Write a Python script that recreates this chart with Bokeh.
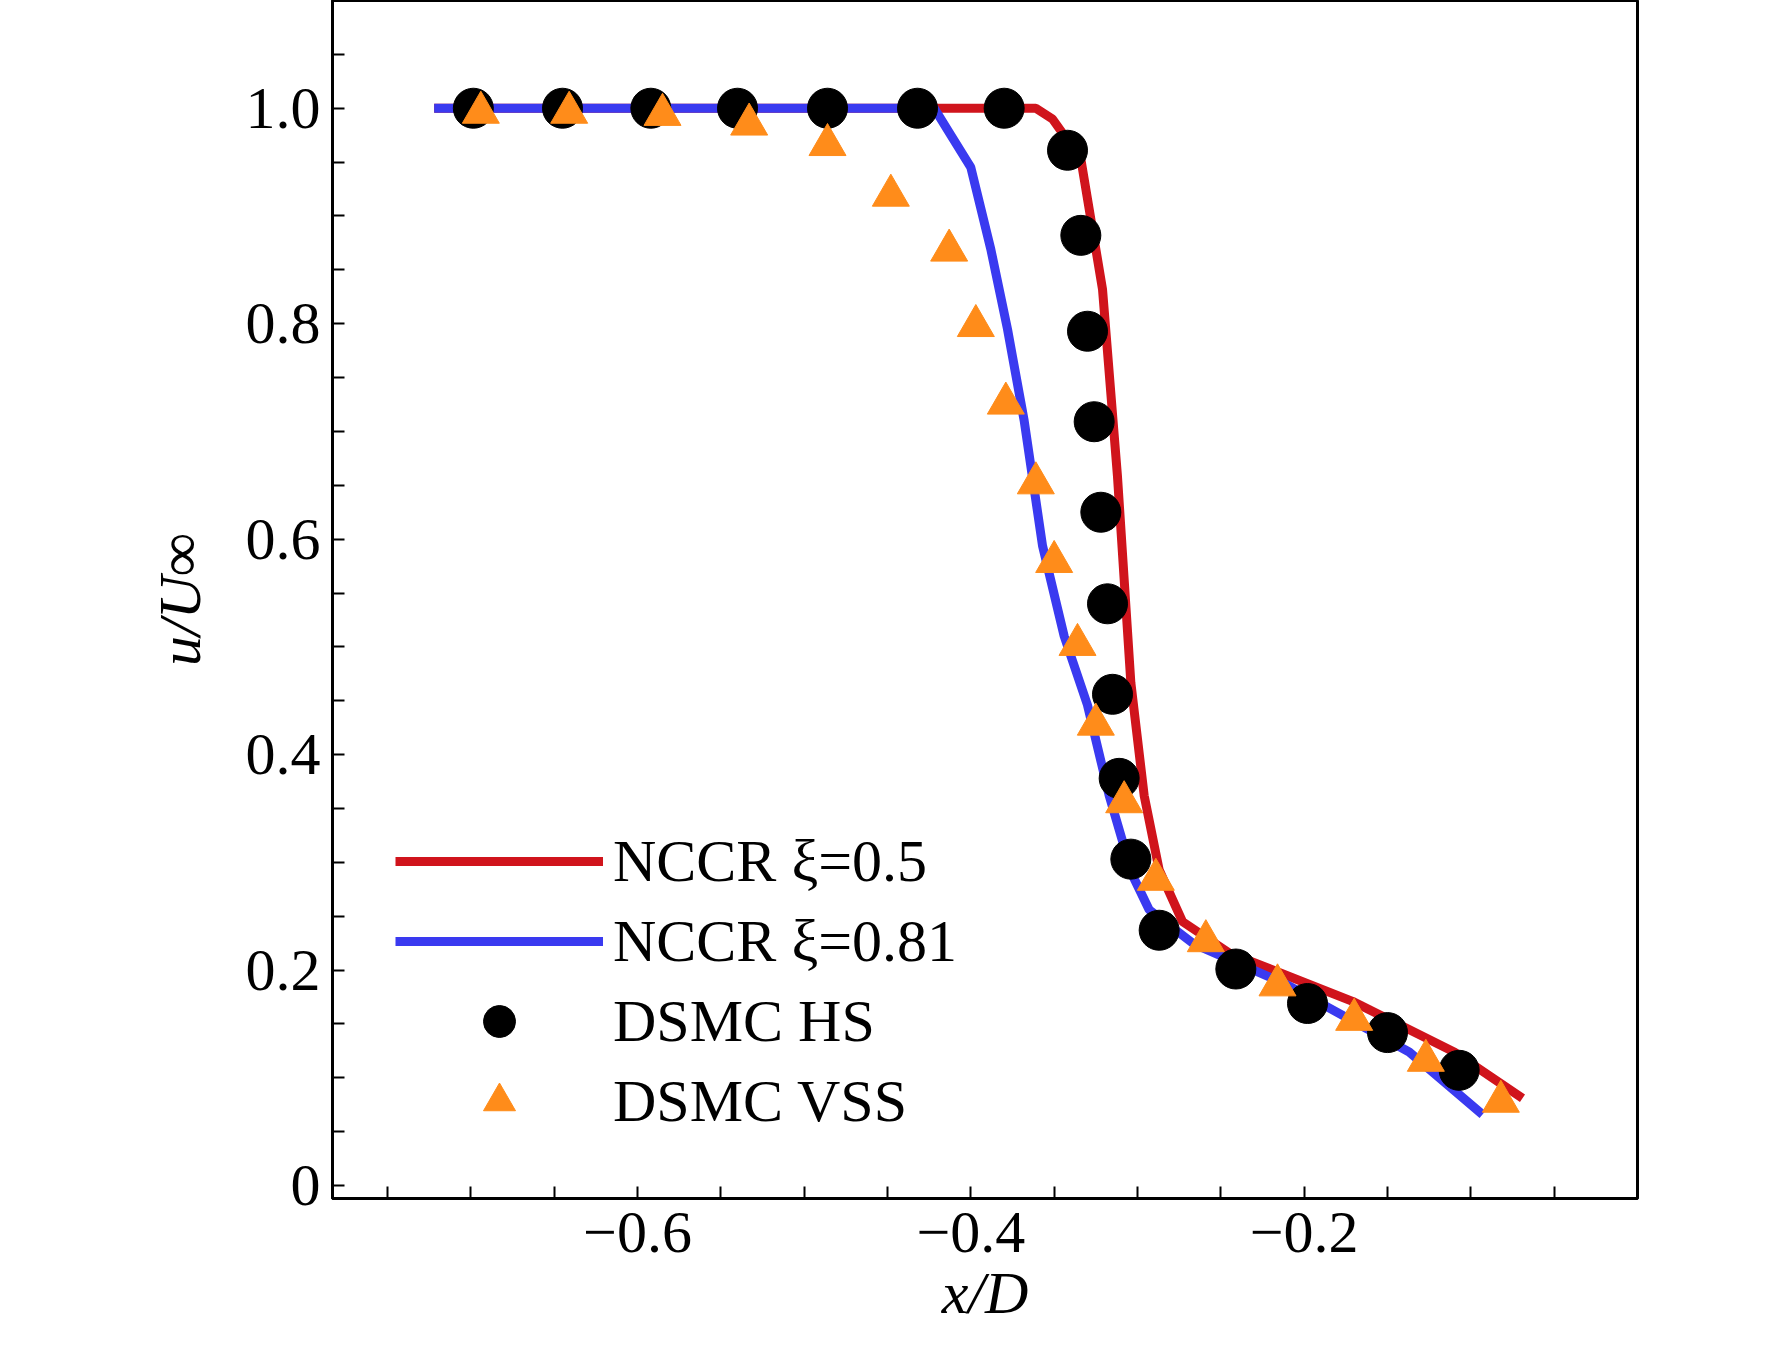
from bokeh.embed import file_html
from bokeh.resources import INLINE
from bokeh.models import Range1d, FixedTicker, Legend, LegendItem
from bokeh.plotting import figure

hs_x = [-0.6985, -0.645, -0.592, -0.540, -0.486, -0.432, -0.380, -0.342, -0.334, -0.330,
        -0.326, -0.322, -0.318, -0.315, -0.311, -0.304, -0.287, -0.241, -0.198, -0.150, -0.107]
hs_y = [1.0, 1.0, 1.0, 1.0, 1.0, 1.0, 1.0, 0.961, 0.882, 0.793,
        0.709, 0.625, 0.540, 0.456, 0.378, 0.303, 0.237, 0.201, 0.169, 0.142, 0.107]

vss_x = [-0.694, -0.641, -0.585, -0.533, -0.486, -0.448, -0.413, -0.397, -0.379, -0.361,
         -0.350, -0.336, -0.325, -0.308, -0.289, -0.259, -0.216, -0.170, -0.127, -0.082]
vss_y = [0.996, 0.996, 0.994, 0.985, 0.966, 0.919, 0.868, 0.798, 0.726, 0.652,
         0.579, 0.502, 0.428, 0.356, 0.284, 0.227, 0.186, 0.154, 0.116, 0.078]

red_x = [-0.722, -0.361, -0.351, -0.334, -0.321, -0.312, -0.304, -0.296, -0.287, -0.273,
         -0.245, -0.171, -0.110, -0.069]
red_y = [1.0, 1.0, 0.990, 0.953, 0.832, 0.658, 0.467, 0.362, 0.293, 0.245,
         0.216, 0.171, 0.124, 0.081]

blue_x = [-0.722, -0.422, -0.412, -0.400, -0.388, -0.378, -0.368, -0.357, -0.344, -0.330,
          -0.317, -0.303, -0.293, -0.266, -0.211, -0.137, -0.093]
blue_y = [1.0, 1.0, 0.975, 0.945, 0.869, 0.795, 0.710, 0.594, 0.510, 0.446,
          0.362, 0.288, 0.256, 0.224, 0.187, 0.124, 0.066]

x_ticks = [round(-0.75 + 0.05 * i, 2) for i in range(16)]
y_ticks = [round(0.05 * i, 2) for i in range(22)]
x_labels = {-0.6: "\u22120.6", -0.4: "\u22120.4", -0.2: "\u22120.2"}
y_labels = {0.0: "0", 0.2: "0.2", 0.4: "0.4", 0.6: "0.6", 0.8: "0.8", 1.0: "1.0"}

FONT = "Liberation Serif"

p = figure(width=1756, height=1347, output_backend="svg", toolbar_location=None,
           x_range=Range1d(-0.783, 0.0), y_range=Range1d(-0.012, 1.1),
           min_border_left=332, min_border_right=110, min_border_top=0, min_border_bottom=141)
p.frame_width = 1305
p.frame_height = 1198
p.grid.visible = False
p.outline_line_color = "black"
p.outline_line_width = 3

for ax in (p.xaxis[0], p.yaxis[0]):
    ax.axis_line_width = 3
    ax.major_tick_line_width = 2
    ax.major_tick_in = 12
    ax.major_tick_out = 0
    ax.minor_tick_line_color = None
    ax.major_label_text_font = FONT
    ax.major_label_text_font_size = "60px"
    ax.major_label_text_color = "black"
    ax.axis_label_text_font = FONT
    ax.axis_label_text_font_size = "60px"
    ax.axis_label_text_font_style = "italic"
    ax.axis_label_text_color = "black"

p.xaxis.ticker = FixedTicker(ticks=x_ticks)
p.xaxis.major_label_overrides = {t: x_labels.get(t, "") for t in x_ticks}
p.yaxis.ticker = FixedTicker(ticks=y_ticks)
p.yaxis.major_label_overrides = {t: y_labels.get(t, "") for t in y_ticks}
p.xaxis.axis_label = "x/D"
p.yaxis.axis_label = "u/U\u221e"
p.xaxis.major_label_standoff = 14
p.yaxis.major_label_standoff = 12
p.yaxis.axis_label_standoff = 30

r_red = p.line(red_x, red_y, line_color="#d0141c", line_width=9)
r_blue = p.line(blue_x, blue_y, line_color="#3a3af0", line_width=9)
r_hs = p.scatter(hs_x, hs_y, marker="circle", size=40, fill_color="black", line_color="black")
r_vss = p.scatter(vss_x, vss_y, marker="triangle", size=37, fill_color="#ff8c1a",
                  line_color="#ff8c1a")

legend = Legend(items=[
    LegendItem(label="NCCR \u03be=0.5", renderers=[r_red]),
    LegendItem(label="NCCR \u03be=0.81", renderers=[r_blue]),
    LegendItem(label="DSMC HS", renderers=[r_hs]),
    LegendItem(label="DSMC VSS", renderers=[r_vss]),
], location=(63, 57), border_line_color=None, background_fill_alpha=0,
    label_text_font=FONT, label_text_font_size="60px", label_text_color="black",
    glyph_width=208, glyph_height=80, label_height=80, spacing=0, padding=0, margin=0,
    label_standoff=10)
p.add_layout(legend)

open("out.html", "w").write(file_html(p, INLINE))
